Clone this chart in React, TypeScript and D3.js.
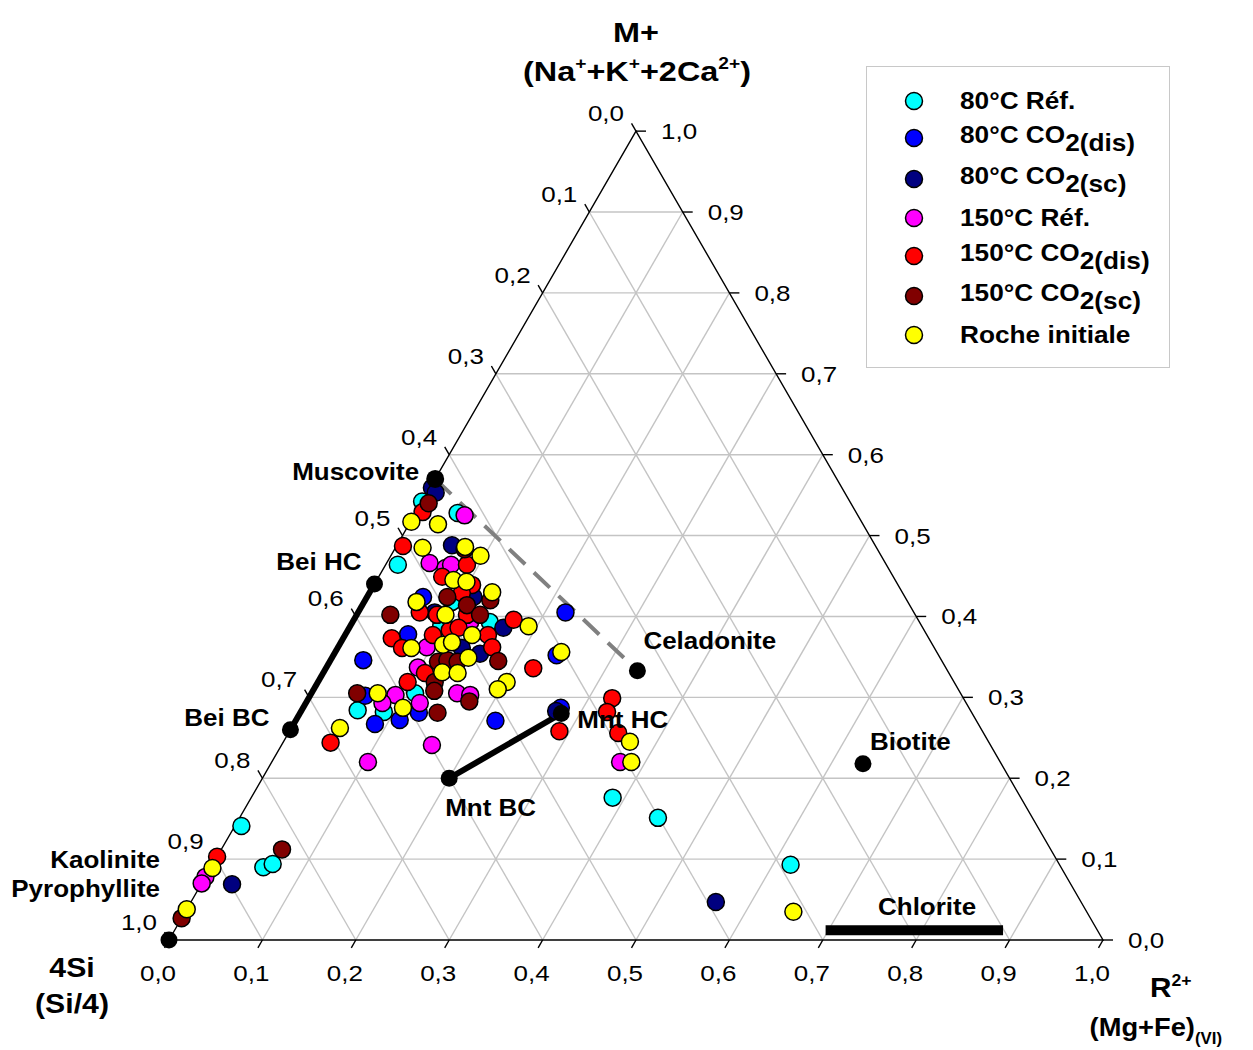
import React from "react";
import * as d3 from "d3";

// ---------- DATA : each point is [M+ fraction, R2+ fraction]; 4Si = 1 - M - R ----------
const seriesNames = ["80°C Réf.", "80°C CO2(dis)", "80°C CO2(sc)", "150°C Réf.", "150°C CO2(dis)", "150°C CO2(sc)", "Roche initiale"];

const ref80: [number, number][] = [
  [0.542, 0.000], [0.528, 0.045], [0.464, 0.013], [0.418, 0.094], [0.393, 0.147], [0.389, 0.097],
  [0.305, 0.111], [0.284, 0.060], [0.282, 0.089], [0.141, 0.007], [0.090, 0.056], [0.094, 0.064],
  [0.176, 0.387], [0.151, 0.448], [0.093, 0.619],
];
const dis80: [number, number][] = [
  [0.405, 0.222], [0.287, 0.276], [0.378, 0.067], [0.424, 0.060], [0.346, 0.035], [0.302, 0.059],
  [0.272, 0.111], [0.281, 0.127], [0.267, 0.087], [0.271, 0.214], [0.352, 0.239],
];
const sc80: [number, number][] = [
  [0.559, 0.002], [0.553, 0.009], [0.488, 0.059], [0.424, 0.114], [0.405, 0.082], [0.386, 0.165],
  [0.354, 0.156], [0.361, 0.133], [0.283, 0.273], [0.069, 0.033], [0.047, 0.562],
];
const ref150: [number, number][] = [
  [0.525, 0.054], [0.466, 0.046], [0.460, 0.066], [0.464, 0.070], [0.393, 0.126], [0.362, 0.095],
  [0.337, 0.098], [0.303, 0.091], [0.293, 0.082], [0.293, 0.122], [0.305, 0.156], [0.303, 0.171],
  [0.241, 0.161], [0.220, 0.103], [0.220, 0.373], [0.078, 0.000], [0.070, 0.000],
];
const dis150: [number, number][] = [
  [0.529, 0.007], [0.487, 0.007], [0.464, 0.087], [0.449, 0.068], [0.439, 0.105], [0.429, 0.099],
  [0.405, 0.066], [0.402, 0.086], [0.402, 0.118], [0.396, 0.171], [0.377, 0.094], [0.377, 0.153],
  [0.373, 0.052], [0.361, 0.069], [0.362, 0.165], [0.330, 0.109], [0.319, 0.096], [0.336, 0.222],
  [0.244, 0.051], [0.258, 0.289], [0.299, 0.325], [0.282, 0.328], [0.256, 0.353], [0.103, 0.000],
  [0.383, 0.109], [0.386, 0.117],
];
const sc150: [number, number][] = [
  [0.540, 0.008], [0.483, 0.075], [0.424, 0.086], [0.420, 0.134], [0.414, 0.112], [0.402, 0.132],
  [0.402, 0.036], [0.344, 0.116], [0.346, 0.125], [0.344, 0.137], [0.345, 0.180], [0.319, 0.125],
  [0.308, 0.130], [0.305, 0.049], [0.295, 0.174], [0.281, 0.147], [0.112, 0.065], [0.027, 0.000],
];
const rock: [number, number][] = [
  [0.517, 0.001], [0.514, 0.031], [0.485, 0.029], [0.486, 0.074], [0.475, 0.096], [0.445, 0.082],
  [0.443, 0.097], [0.430, 0.131], [0.418, 0.056], [0.402, 0.095], [0.388, 0.191], [0.377, 0.136],
  [0.365, 0.111], [0.368, 0.119], [0.361, 0.079], [0.349, 0.146], [0.331, 0.127], [0.330, 0.144],
  [0.319, 0.202], [0.310, 0.197], [0.305, 0.071], [0.287, 0.107], [0.262, 0.052], [0.356, 0.242],
  [0.245, 0.371], [0.220, 0.385], [0.089, 0.002], [0.038, 0.000], [0.035, 0.651],
];

// end members [M+, R2+]
const minNames = ["Muscovite", "Bei HC", "Bei BC", "Celadonite", "Mnt HC", "Mnt BC", "Biotite", "Kaolinite"];
const minValues: [number, number][] = [
  [0.57, 0.0], [0.44, 0.0], [0.26, 0.0], [0.333, 0.335], [0.28, 0.28], [0.20, 0.20], [0.218, 0.634], [0.0, 0.0],
];
const chloriteRange: [number, number] = [0.697, 0.887];
const chloriteM = 0.012;

const tickValues = d3.range(0, 1.0001, 0.1);
const gridValues = d3.range(0.1, 0.95, 0.1);

// ---------- STYLE / LAYOUT ----------
const seriesData = [ref80, dis80, sc80, ref150, dis150, sc150, rock];
const seriesColors = ["#00ffff", "#0000ff", "#000080", "#ff00ff", "#ff0000", "#800000", "#ffff00"];
const FONT = "'Liberation Sans', Arial, Helvetica, sans-serif";

const xS = d3.scaleLinear().domain([0, 1]).range([169, 1103]);
const yS = d3.scaleLinear().domain([0, 1]).range([940, 940 - 934 * Math.sqrt(3) / 2]);
const px = (m: number, r: number) => xS(r + m / 2);
const py = (m: number) => yS(m);
const fmt = (v: number) => d3.format(".1f")(v).replace(".", ",");

const T = ({ x, y, anchor = "start", size, bold = false, sx = 1, children }: any) => (
  <g transform={`translate(${x},${y}) scale(${sx},1)`}>
    <text x={0} y={0} textAnchor={anchor} fontSize={size} fontWeight={bold ? "bold" : "normal"} fontFamily={FONT} fill="#000">
      {children}
    </text>
  </g>
);

const labelOffsets: [number, number, string][] = [
  [-16, 1, "end"], [-13, -14, "end"], [-21, -4, "end"], [6, -22, "start"], [16, 14, "start"], [-4, 38, "start"], [7, -14, "start"],
];

export default function App() {
  const grid: any[] = [];
  gridValues.forEach((v, i) => {
    grid.push(<line key={"m" + i} x1={px(v, 0)} y1={py(v)} x2={px(v, 1 - v)} y2={py(v)} />);
    grid.push(<line key={"r" + i} x1={px(0, v)} y1={py(0)} x2={px(1 - v, v)} y2={py(1 - v)} />);
    grid.push(<line key={"s" + i} x1={px(0, 1 - v)} y1={py(0)} x2={px(1 - v, 0)} y2={py(1 - v)} />);
  });
  const c30 = Math.cos(Math.PI / 3), s60 = Math.sin(Math.PI / 3);
  const TL = 9;
  const ticks: any[] = [];
  const tlabels: any[] = [];
  tickValues.forEach((v, i) => {
    // bottom (R2+)
    const bx = px(0, v), by = py(0);
    ticks.push(<line key={"tb" + i} x1={bx} y1={by} x2={bx - TL * c30} y2={by + TL * s60} />);
    tlabels.push(<T key={"lb" + i} x={bx - 11} y={by + 41} anchor="middle" size={22} sx={1.18}>{fmt(v)}</T>);
    // right (M+)
    const rx = px(v, 1 - v), ry = py(v);
    ticks.push(<line key={"tr" + i} x1={rx} y1={ry} x2={rx + TL + 1} y2={ry} />);
    tlabels.push(<T key={"lr" + i} x={rx + 25} y={ry + 8} size={22} sx={1.18}>{fmt(v)}</T>);
    // left (4Si)
    const lx = px(1 - v, 0), ly = py(1 - v);
    ticks.push(<line key={"tl" + i} x1={lx} y1={ly} x2={lx - TL * c30} y2={ly - TL * s60} />);
    tlabels.push(<T key={"ll" + i} x={lx - 12} y={ly - 10} anchor="end" size={22} sx={1.18}>{fmt(v)}</T>);
  });

  const mv = minValues;
  const legendY = [101, 138, 179, 218, 256, 296, 335];

  return (
    <svg width={1253} height={1050} style={{ position: "absolute", left: 0, top: 0, background: "#fff" }}>
      <rect x={0} y={0} width={1253} height={1050} fill="#fff" />
      <g stroke="#c4c4c4" strokeWidth={1.4}>{grid}</g>
      <path d={`M${px(1, 0)},${py(1)}L${px(0, 0)},${py(0)}L${px(0, 1)},${py(0)}Z`} fill="none" stroke="#000" strokeWidth={1.4} />
      <g stroke="#000" strokeWidth={1.4}>{ticks}</g>
      {tlabels}

      {/* tie lines */}
      <line x1={px(mv[0][0], mv[0][1])} y1={py(mv[0][0])} x2={px(mv[3][0], mv[3][1])} y2={py(mv[3][0])} stroke="#808080" strokeWidth={4} strokeDasharray="22 12" />
      <line x1={px(mv[1][0], mv[1][1])} y1={py(mv[1][0])} x2={px(mv[2][0], mv[2][1])} y2={py(mv[2][0])} stroke="#000" strokeWidth={6} />
      <line x1={px(mv[5][0], mv[5][1])} y1={py(mv[5][0])} x2={px(mv[4][0], mv[4][1])} y2={py(mv[4][0])} stroke="#000" strokeWidth={6} />
      <line x1={px(chloriteM, chloriteRange[0])} y1={py(chloriteM)} x2={px(chloriteM, chloriteRange[1])} y2={py(chloriteM)} stroke="#000" strokeWidth={10} />

      {/* data */}
      {seriesData.map((s, si) => (
        <g key={si} fill={seriesColors[si]} stroke="#000" strokeWidth={1.5}>
          {s.map((d, j) => <circle key={j} cx={px(d[0], d[1])} cy={py(d[0])} r={8.5} />)}
        </g>
      ))}

      {/* end members */}
      <g fill="#000">
        {mv.map((d, i) => <circle key={i} cx={px(d[0], d[1])} cy={py(d[0])} r={i === 0 ? 9 : 8.5} />)}
      </g>
      {labelOffsets.map((o, i) => (
        <T key={"mn" + i} x={px(mv[i][0], mv[i][1]) + o[0]} y={py(mv[i][0]) + o[1]} anchor={o[2]} size={23} bold sx={1.13}>{minNames[i]}</T>
      ))}
      <T x={px(0, 0) - 9} y={868} anchor="end" size={23} bold sx={1.13}>Kaolinite</T>
      <T x={px(0, 0) - 9} y={897} anchor="end" size={23} bold sx={1.13}>Pyrophyllite</T>
      <T x={878} y={915} size={23} bold sx={1.13}>Chlorite</T>

      {/* axis titles */}
      <T x={636} y={42} anchor="middle" size={27} bold sx={1.2}>M+</T>
      <g transform="translate(637,81) scale(1.2,1)">
        <text textAnchor="middle" fontSize={27} fontWeight="bold" fontFamily={FONT}>
          (Na<tspan dy={-12} fontSize={16}>+</tspan><tspan dy={12}>+K</tspan><tspan dy={-12} fontSize={16}>+</tspan><tspan dy={12}>+2Ca</tspan><tspan dy={-12} fontSize={16}>2+</tspan><tspan dy={12}>)</tspan>
        </text>
      </g>
      <T x={72} y={977} anchor="middle" size={27} bold sx={1.12}>4Si</T>
      <T x={72} y={1013} anchor="middle" size={27} bold sx={1.12}>(Si/4)</T>
      <g transform="translate(1150,997) scale(1.1,1)">
        <text fontSize={27} fontWeight="bold" fontFamily={FONT}>R<tspan dy={-11} fontSize={16}>2+</tspan></text>
      </g>
      <g transform="translate(1222,1036) scale(1.05,1)">
        <text textAnchor="end" fontSize={26} fontWeight="bold" fontFamily={FONT}>(Mg+Fe)<tspan dy={8} fontSize={16}>(VI)</tspan></text>
      </g>

      {/* legend */}
      <rect x={866.5} y={66.5} width={303} height={301} fill="#fff" stroke="#c8c8c8" strokeWidth={1} />
      {seriesNames.map((n, i) => {
        const m = n.match(/^(.*CO)2(\(.*\))$/);
        return (
          <g key={"lg" + i}>
            <circle cx={914} cy={legendY[i]} r={8.5} fill={seriesColors[i]} stroke="#000" strokeWidth={1.5} />
            <g transform={`translate(960,${legendY[i] + (m ? 5 : 8)}) scale(1.14,1)`}>
              <text fontSize={23} fontWeight="bold" fontFamily={FONT}>
                {m ? (<>{m[1]}<tspan dy={8}>2{m[2]}</tspan></>) : n}
              </text>
            </g>
          </g>
        );
      })}
    </svg>
  );
}
